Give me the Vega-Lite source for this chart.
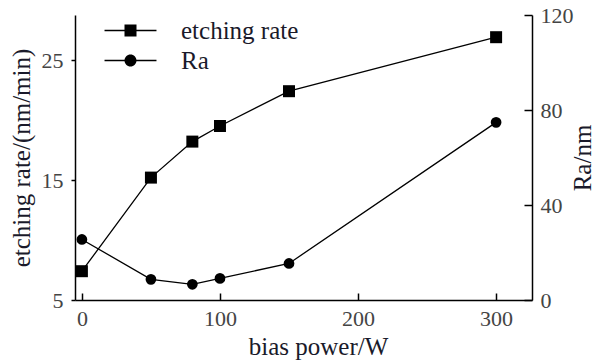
{
  "$schema": "https://vega.github.io/schema/vega-lite/v6.json",
  "width": 457,
  "height": 285,
  "autosize": {"type": "none"},
  "padding": {"left": 75, "top": 15, "right": 69, "bottom": 60},
  "background": "white",
  "config": {
    "view": {"stroke": null},
    "font": "Liberation Serif",
    "axis": {
      "grid": false,
      "domainColor": "black",
      "domainWidth": 1.5,
      "tickColor": "black",
      "tickWidth": 1.5,
      "labelFont": "Liberation Serif",
      "labelFontSize": 22,
      "labelColor": "#444444",
      "titleFont": "Liberation Serif",
      "titleFontWeight": "normal",
      "titleFontSize": 25,
      "titleColor": "#1a1a2a"
    }
  },
  "datasets": {
    "d": [
      {"power": 0, "series": "etching rate", "value": 7.4},
      {"power": 50, "series": "etching rate", "value": 15.2},
      {"power": 80, "series": "etching rate", "value": 18.2},
      {"power": 100, "series": "etching rate", "value": 19.5},
      {"power": 150, "series": "etching rate", "value": 22.4},
      {"power": 300, "series": "etching rate", "value": 26.9},
      {"power": 0, "series": "Ra", "value": 25.5},
      {"power": 50, "series": "Ra", "value": 8.7},
      {"power": 80, "series": "Ra", "value": 6.6},
      {"power": 100, "series": "Ra", "value": 9.1},
      {"power": 150, "series": "Ra", "value": 15.4},
      {"power": 300, "series": "Ra", "value": 74.8}
    ]
  },
  "data": {"name": "d"},
  "encoding": {
    "x": {
      "field": "power",
      "type": "quantitative",
      "scale": {"domain": [-5, 326], "nice": false, "zero": false},
      "axis": {
        "values": [0, 100, 200, 300],
        "tickSize": -7,
        "labelPadding": 15,
        "title": "bias power/W",
        "titleX": 243,
        "titlePadding": 5
      }
    }
  },
  "layer": [
    {
      "transform": [{"filter": "datum.series === 'etching rate'"}],
      "encoding": {
        "y": {
          "field": "value",
          "type": "quantitative",
          "scale": {"domain": [5, 28.75], "nice": false, "zero": false},
          "axis": {
            "orient": "left",
            "values": [5, 15, 25],
            "tickSize": 4,
            "labelPadding": 8,
            "title": "etching rate/(nm/min)",
            "titlePadding": 7
          }
        }
      },
      "layer": [
        {"mark": {"type": "line", "color": "black", "strokeWidth": 1.3}},
        {"mark": {"type": "point", "shape": "square", "filled": true, "size": 144, "color": "black", "opacity": 1}},
        {
          "mark": {"type": "point", "filled": true, "color": "black", "size": 0, "opacity": 1},
          "encoding": {
            "shape": {
              "field": "series",
              "type": "nominal",
              "scale": {
                "domain": ["etching rate", "Ra"],
                "range": [
                  "M-4.33,-0.11H4.33V0.11H-4.33ZM-1,-1H1V1H-1Z",
                  "M-4.33,-0.11H4.33V0.11H-4.33ZM1,0A1,1,0,1,1,-1,0A1,1,0,1,1,1,0Z"
                ]
              },
              "legend": {
                "title": null,
                "orient": "none",
                "legendX": 43,
                "legendY": 3,
                "symbolSize": 144,
                "symbolFillColor": "black",
                "labelFont": "Liberation Serif",
                "labelFontSize": 25,
                "labelColor": "#1a1a2a",
                "labelOffset": 38,
                "rowPadding": 4
              }
            }
          }
        }
      ]
    },
    {
      "transform": [{"filter": "datum.series === 'Ra'"}],
      "encoding": {
        "y": {
          "field": "value",
          "type": "quantitative",
          "scale": {"domain": [0, 120], "nice": false, "zero": false},
          "axis": {
            "orient": "right",
            "values": [0, 40, 80, 120],
            "tickSize": -8,
            "labelPadding": 16,
            "title": "Ra/nm",
            "titleAngle": -90,
            "titlePadding": 22
          }
        }
      },
      "layer": [
        {"mark": {"type": "line", "color": "black", "strokeWidth": 1.3}},
        {"mark": {"type": "point", "shape": "circle", "filled": true, "size": 115, "color": "black", "opacity": 1}}
      ]
    }
  ],
  "resolve": {"scale": {"y": "independent"}}
}
